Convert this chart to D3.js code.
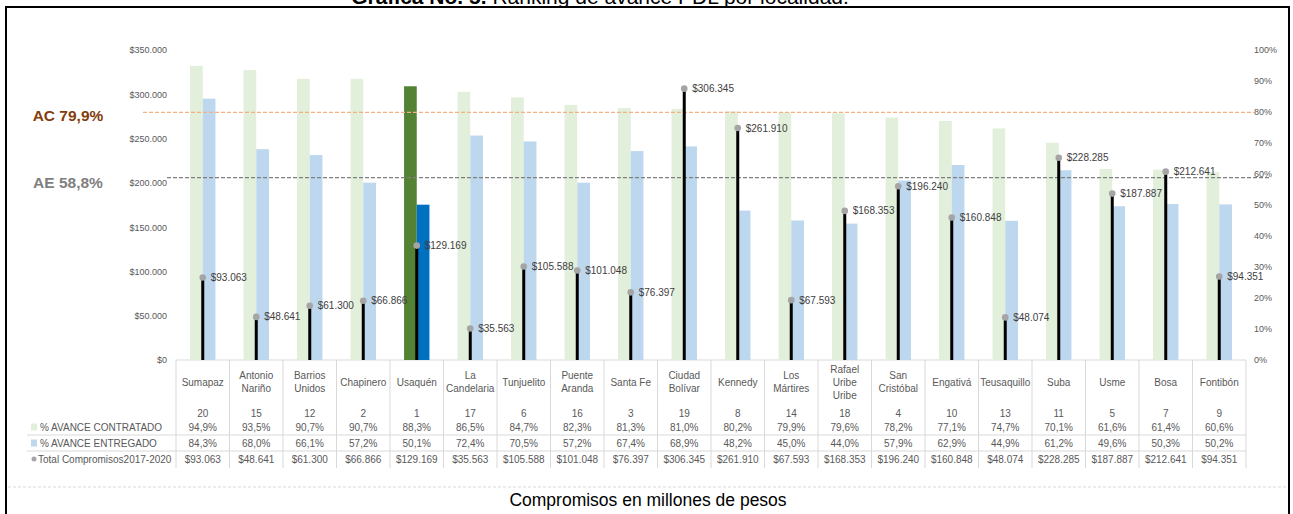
<!DOCTYPE html>
<html lang="es">
<head>
<meta charset="UTF-8">
<title>Ranking de avance PDL por localidad</title>
<script src="https://d3js.org/d3.v7.min.js"></script>
<style>
  body { margin: 0; background: #fff; }
  svg { display: block; font-family: "Liberation Sans", Arial, sans-serif; }
</style>
</head>
<body>
<div id="chart"></div>
<script>
// localidades, ordered by % avance contratado ("|" = line break in the table)
var localidades = ["Sumapaz", "Antonio|Nariño", "Barrios|Unidos", "Chapinero", "Usaquén",
  "La|Candelaria", "Tunjuelito", "Puente|Aranda", "Santa Fe", "Ciudad|Bolívar", "Kennedy",
  "Los|Mártires", "Rafael|Uribe|Uribe", "San|Cristóbal", "Engativá", "Teusaquillo", "Suba",
  "Usme", "Bosa", "Fontibón"];
var numeros = [20, 15, 12, 2, 1, 17, 6, 16, 3, 19, 8, 14, 18, 4, 10, 13, 11, 5, 7, 9];
var avanceContratado = [94.9, 93.5, 90.7, 90.7, 88.3, 86.5, 84.7, 82.3, 81.3, 81.0, 80.2, 79.9,
  79.6, 78.2, 77.1, 74.7, 70.1, 61.6, 61.4, 60.6];
var avanceEntregado = [84.3, 68.0, 66.1, 57.2, 50.1, 72.4, 70.5, 57.2, 67.4, 68.9, 48.2, 45.0,
  44.0, 57.9, 62.9, 44.9, 61.2, 49.6, 50.3, 50.2];
var totalCompromisos = [93063, 48641, 61300, 66866, 129169, 35563, 105588, 101048, 76397, 306345,
  261910, 67593, 168353, 196240, 160848, 48074, 228285, 187887, 212641, 94351];
var promedioAC = 79.9;   // avance contratado promedio
var promedioAE = 58.8;   // avance entregado promedio
var destacada = "Usaquén";

var leftTicks = [0, 50000, 100000, 150000, 200000, 250000, 300000, 350000];
var rightTicks = [0, 10, 20, 30, 40, 50, 60, 70, 80, 90, 100];

var W = 1293, H = 514;
var plot = {left: 176, right: 1246, top: 50, bottom: 360};

var es = d3.formatLocale({decimal: ",", thousands: ".", grouping: [3], currency: ["$", ""]});
var fmtMoney = es.format("$,.0f");
var fmtPct = function(v) { return es.format(".1f")(v) + "%"; };

var svg = d3.select("#chart").append("svg")
  .attr("width", W).attr("height", H);

// frame and title (title sits above the frame, partly outside the page as in the source)
svg.append("rect")
  .attr("x", 6).attr("y", 7).attr("width", 1283).attr("height", 515)
  .attr("fill", "none").attr("stroke", "#000").attr("stroke-width", 2);

var title = svg.append("text")
  .attr("x", 600).attr("y", 4)
  .attr("text-anchor", "middle")
  .style("font-size", "21px").attr("fill", "#000");
title.append("tspan").style("font-weight", "bold").text("Gráfica No. 5. ");
title.append("tspan").text("Ranking de avance PDL por localidad.");

// scales
var x = d3.scaleBand().domain(localidades).range([plot.left, plot.right]);
var yMoney = d3.scaleLinear().domain([0, 350000]).range([plot.bottom, plot.top]);
var yPct = d3.scaleLinear().domain([0, 100]).range([plot.bottom, plot.top]);
var barW = 12.7;

// axes (no lines, only labels)
var leftAxis = svg.append("g")
  .attr("transform", "translate(" + (plot.left - 4) + ",0)")
  .call(d3.axisLeft(yMoney).tickValues(leftTicks).tickFormat(fmtMoney).tickSize(0).tickPadding(5));
leftAxis.select(".domain").remove();
leftAxis.selectAll("text").attr("fill", "#595959").style("font-size", "9px")
  .style("font-family", "Liberation Sans, Arial, sans-serif");

var rightAxis = svg.append("g")
  .attr("transform", "translate(1249,0)")
  .call(d3.axisRight(yPct).tickValues(rightTicks).tickFormat(function(d) { return d + "%"; })
    .tickSize(0).tickPadding(5));
rightAxis.select(".domain").remove();
rightAxis.selectAll("text").attr("fill", "#595959").style("font-size", "9px")
  .style("font-family", "Liberation Sans, Arial, sans-serif");

// baseline
svg.append("line")
  .attr("x1", plot.left).attr("x2", plot.right)
  .attr("y1", plot.bottom).attr("y2", plot.bottom)
  .attr("stroke", "#d9d9d9").attr("stroke-width", 1);

// bars
var rows = localidades.map(function(d, i) {
  return {name: d, n: numeros[i], ac: avanceContratado[i], ae: avanceEntregado[i], total: totalCompromisos[i]};
});
var isHi = function(d) { return d.name === destacada; };

svg.selectAll(".bar-ac").data(rows).enter().append("rect")
  .attr("x", function(d) { return x(d.name) + x.bandwidth() / 2 - barW; })
  .attr("y", function(d) { return yPct(d.ac); })
  .attr("width", barW)
  .attr("height", function(d) { return plot.bottom - yPct(d.ac); })
  .attr("fill", function(d) { return isHi(d) ? "#548235" : "#e2efda"; });

svg.selectAll(".bar-ae").data(rows).enter().append("rect")
  .attr("x", function(d) { return x(d.name) + x.bandwidth() / 2; })
  .attr("y", function(d) { return yPct(d.ae); })
  .attr("width", barW)
  .attr("height", function(d) { return plot.bottom - yPct(d.ae); })
  .attr("fill", function(d) { return isHi(d) ? "#0070c0" : "#bdd7ee"; });

// reference lines
svg.append("line")
  .attr("x1", 143).attr("x2", 1254)
  .attr("y1", yPct(promedioAC)).attr("y2", yPct(promedioAC))
  .attr("stroke", "#f4b183").attr("stroke-width", 1.3).attr("stroke-dasharray", "4,2");
svg.append("line")
  .attr("x1", 167).attr("x2", 1269)
  .attr("y1", yPct(promedioAE)).attr("y2", yPct(promedioAE))
  .attr("stroke", "#7f7f7f").attr("stroke-width", 1.3).attr("stroke-dasharray", "4,2");

svg.append("text")
  .attr("x", 68).attr("y", yPct(promedioAC) + 3).attr("dy", "0.35em")
  .attr("text-anchor", "middle").attr("fill", "#843c0c")
  .style("font-size", "15.5px").style("font-weight", "bold")
  .text("AC " + es.format(".1f")(promedioAC) + "%");
svg.append("text")
  .attr("x", 68).attr("y", yPct(promedioAE) + 5).attr("dy", "0.35em")
  .attr("text-anchor", "middle").attr("fill", "#7f7f7f")
  .style("font-size", "15.5px").style("font-weight", "bold")
  .text("AE " + es.format(".1f")(promedioAE) + "%");

// total compromisos: lollipops
var cx = function(d) { return x(d.name) + x.bandwidth() / 2; };
svg.selectAll(".stem").data(rows).enter().append("line")
  .attr("x1", cx).attr("x2", cx)
  .attr("y1", plot.bottom).attr("y2", function(d) { return yMoney(d.total); })
  .attr("stroke", "#000").attr("stroke-width", 3);
svg.selectAll(".dot").data(rows).enter().append("circle")
  .attr("cx", cx).attr("cy", function(d) { return yMoney(d.total); })
  .attr("r", 3.3).attr("fill", "#a5a5a5");
svg.selectAll(".val").data(rows).enter().append("text")
  .attr("x", function(d) { return cx(d) + 8; })
  .attr("y", function(d) { return yMoney(d.total); })
  .attr("dy", "0.35em")
  .attr("fill", "#404040").style("font-size", "10px")
  .text(function(d) { return fmtMoney(d.total); });

// data table
var tbl = svg.append("g").style("font-size", "10px").attr("fill", "#595959");
var rowY = {n: 413, ac: 427, ae: 443, total: 459};

svg.selectAll(".sep").data(d3.range(localidades.length + 1)).enter().append("line")
  .attr("x1", function(i) { return plot.left + i * x.step(); })
  .attr("x2", function(i) { return plot.left + i * x.step(); })
  .attr("y1", plot.bottom).attr("y2", 468)
  .attr("stroke", "#d9d9d9").attr("stroke-width", 1);
[435, 451].forEach(function(yy) {
  svg.append("line").attr("x1", 27).attr("x2", plot.right)
    .attr("y1", yy).attr("y2", yy)
    .attr("stroke", "#d9d9d9").attr("stroke-width", 1);
});

rows.forEach(function(d) {
  var c = cx(d);
  var lines = d.name.split("|");
  var lh = 13;
  var y0 = 382 - (lines.length - 1) * lh / 2;
  var t = tbl.append("text").attr("text-anchor", "middle");
  lines.forEach(function(l, k) {
    t.append("tspan").attr("x", c).attr("y", y0 + k * lh).attr("dy", "0.35em").text(l);
  });
  tbl.append("text").attr("x", c).attr("y", rowY.n).attr("dy", "0.35em")
    .attr("text-anchor", "middle").text(d.n);
  tbl.append("text").attr("x", c).attr("y", rowY.ac).attr("dy", "0.35em")
    .attr("text-anchor", "middle").text(fmtPct(d.ac));
  tbl.append("text").attr("x", c).attr("y", rowY.ae).attr("dy", "0.35em")
    .attr("text-anchor", "middle").text(fmtPct(d.ae));
  tbl.append("text").attr("x", c).attr("y", rowY.total).attr("dy", "0.35em")
    .attr("text-anchor", "middle").text(fmtMoney(d.total));
});

// legend keys + row labels
tbl.append("rect").attr("x", 31).attr("y", rowY.ac - 3.5).attr("width", 6).attr("height", 7).attr("fill", "#e2efda");
tbl.append("text").attr("x", 40).attr("y", rowY.ac).attr("dy", "0.35em").text("% AVANCE CONTRATADO");
tbl.append("rect").attr("x", 31).attr("y", rowY.ae - 3.5).attr("width", 6).attr("height", 7).attr("fill", "#bdd7ee");
tbl.append("text").attr("x", 40).attr("y", rowY.ae).attr("dy", "0.35em").text("% AVANCE ENTREGADO");
tbl.append("circle").attr("cx", 34).attr("cy", rowY.total).attr("r", 2.5).attr("fill", "#a5a5a5");
tbl.append("text").attr("x", 38).attr("y", rowY.total).attr("dy", "0.35em").text("Total Compromisos2017-2020");

// bottom caption
svg.append("line")
  .attr("x1", 8).attr("x2", 1287).attr("y1", 487).attr("y2", 487)
  .attr("stroke", "#d9d9d9").attr("stroke-width", 1).attr("stroke-dasharray", "3,2");
svg.append("text")
  .attr("x", 648).attr("y", 500).attr("dy", "0.35em")
  .attr("text-anchor", "middle").attr("fill", "#000")
  .style("font-size", "17.5px")
  .text("Compromisos en millones de pesos");
</script>
</body>
</html>
